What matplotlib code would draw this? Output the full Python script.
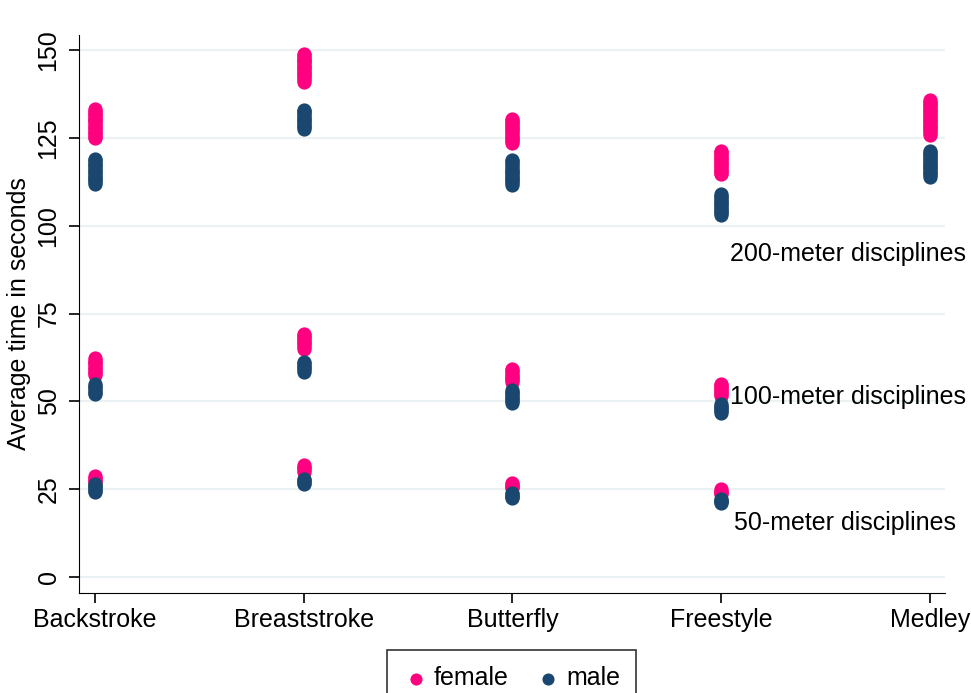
import matplotlib
matplotlib.use("Agg")
import matplotlib.pyplot as plt

plt.rcParams['font.family'] = ['Liberation Sans', 'DejaVu Sans']

strokes = ["Backstroke", "Breaststroke", "Butterfly", "Freestyle", "Medley"]

# average times (seconds), one list of swimmers per stroke
female_200 = [[125.0, 125.4, 125.9, 126.3, 126.8, 127.3, 127.7, 128.0, 128.6, 129.2,
               129.7, 130.1, 130.4, 130.9, 131.5, 131.9, 132.3, 132.8, 133.2],
              [141.0, 141.5, 142.0, 142.5, 142.9, 143.5, 143.9, 144.3, 144.8, 145.2,
               145.6, 146.1, 146.5, 146.8, 147.3, 147.6, 148.1, 148.6, 149.0],
              [123.5, 124.0, 124.5, 124.9, 125.4, 125.8, 126.3, 126.9, 127.3, 127.7,
               128.2, 128.8, 129.2, 129.6, 130.0, 130.4],
              [114.7, 115.1, 115.6, 116.0, 116.5, 116.9, 117.3, 117.8, 118.2, 118.8,
               119.3, 119.7, 120.1, 120.6, 121.0, 121.3],
              [125.8, 126.3, 126.9, 127.4, 127.8, 128.3, 128.8, 129.3, 129.7, 130.2,
               130.7, 131.2, 131.6, 132.1, 132.6, 133.0, 133.5, 134.0, 134.4, 134.9,
               135.3, 135.8]]
male_200 = [[112.0, 112.5, 113.0, 113.4, 113.9, 114.3, 114.8, 115.3, 115.7, 116.1,
             116.6, 117.2, 117.6, 118.1, 118.6, 119.0],
            [127.5, 128.0, 128.5, 128.9, 129.4, 129.9, 130.3, 130.8, 131.3, 131.8,
             132.3, 132.7, 133.0],
            [111.6, 112.1, 112.6, 113.0, 113.5, 113.9, 114.4, 114.9, 115.3, 115.7,
             116.2, 116.8, 117.3, 117.8, 118.3, 118.7],
            [103.0, 103.5, 104.0, 104.5, 104.9, 105.4, 105.8, 106.2, 106.7, 107.1,
             107.6, 108.1, 108.6, 109.0],
            [114.0, 114.5, 115.0, 115.4, 115.9, 116.3, 116.8, 117.3, 117.7, 118.2,
             118.6, 119.1, 119.6, 120.0, 120.5, 120.9, 121.3]]
female_100 = [[57.5, 58.0, 58.5, 59.0, 59.4, 59.9, 60.5, 60.9, 61.3, 61.8, 62.3],
              [65.0, 65.5, 66.0, 66.5, 67.0, 67.4, 67.9, 68.3, 68.8, 69.2],
              [55.5, 56.0, 56.4, 56.9, 57.3, 57.8, 58.3, 58.8, 59.2],
              [51.5, 52.0, 52.4, 52.9, 53.3, 53.8, 54.2, 54.6, 55.0],
              []]
male_100 = [[52.0, 52.5, 53.0, 53.5, 54.0, 54.5, 55.0],
             [58.4, 58.9, 59.4, 59.8, 60.3, 60.8, 61.2],
             [49.5, 50.0, 50.4, 50.9, 51.3, 51.8, 52.3, 52.8, 53.2],
             [46.7, 47.2, 47.6, 48.0, 48.4, 48.8, 49.2],
             []]
female_50 = [[27.0, 27.4, 27.8, 28.3, 28.7],
             [30.0, 30.5, 30.9, 31.4, 31.9],
             [25.3, 25.7, 26.0, 26.4, 26.8],
             [23.5, 23.9, 24.2, 24.6, 25.0],
             []]
male_50 = [[24.2, 24.6, 25.0, 25.4, 25.8, 26.2, 26.5],
           [26.5, 26.9, 27.2, 27.6, 27.9],
           [22.5, 22.8, 23.2, 23.6, 23.9],
           [21.0, 21.3, 21.6, 21.9, 22.2],
           []]

labels = ["200-meter disciplines", "100-meter disciplines", "50-meter disciplines"]
label_pos = [(4.04, 92), (4.04, 51.2), (4.06, 15.4)]

pink = "#ff0080"
navy = "#1a476f"

fig = plt.figure(figsize=(9.71, 6.93), dpi=100)
ax = fig.add_axes([0.081, 0.1443, 0.892, 0.8052])


def collect(groups):
    xs, ys = [], []
    for i, vals in enumerate(groups):
        xs += [i + 1] * len(vals)
        ys += vals
    return xs, ys


fx, fy = [], []
mx, my = [], []
for grp in [female_200, female_100, female_50]:
    x, y = collect(grp)
    fx += x
    fy += y
for grp in [male_200, male_100, male_50]:
    x, y = collect(grp)
    mx += x
    my += y

ax.scatter(fx, fy, s=105, color=pink, linewidths=0, label="female", zorder=3)
ax.scatter(mx, my, s=105, color=navy, linewidths=0, label="male", zorder=4)

for txt, (x, y) in zip(labels, label_pos):
    ax.text(x, y, txt, fontsize=18, ha="left", va="center", clip_on=False, zorder=5)

ax.set_xlim(0.923, 5.07)
ax.set_ylim(-4.55, 154.3)
ax.set_xticks(range(1, 6))
ax.set_xticklabels(strokes)
ax.set_yticks([0, 25, 50, 75, 100, 125, 150])
for lab in ax.get_yticklabels():
    lab.set_rotation(90)
    lab.set_va("center")
ax.tick_params(axis="both", labelsize=18, length=7, width=1.2, direction="out")
ax.tick_params(axis="y", pad=6)
ax.grid(axis="y", color="#eaf2f3", linewidth=1.5)
ax.set_axisbelow(True)
ax.spines["top"].set_visible(False)
ax.spines["right"].set_visible(False)
ax.set_ylabel("Average time in seconds", fontsize=18, labelpad=4)

leg = fig.legend(loc="upper center", bbox_to_anchor=(0.527, 1 - 650 / 693), ncol=2,
                 fontsize=18, frameon=True, fancybox=False, edgecolor="black",
                 handletextpad=0.2, columnspacing=1.1, borderpad=0.65,
                 borderaxespad=0, handlelength=1.0, markerscale=0.85)
leg.get_frame().set_linewidth(1.2)

fig.savefig("out.png", dpi=100)
